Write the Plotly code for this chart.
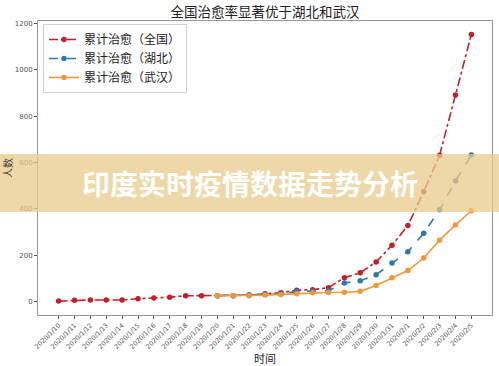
import plotly.graph_objects as go

dates = ["2020/1/10", "2020/1/11", "2020/1/12", "2020/1/13", "2020/1/14", "2020/1/15",
         "2020/1/16", "2020/1/17", "2020/1/18", "2020/1/19", "2020/1/20", "2020/1/21",
         "2020/1/22", "2020/1/23", "2020/1/24", "2020/1/25", "2020/1/26", "2020/1/27",
         "2020/1/28", "2020/1/29", "2020/1/30", "2020/1/31", "2020/2/1", "2020/2/2",
         "2020/2/3", "2020/2/4", "2020/2/5"]

national = [2, 6, 7, 7, 7, 12, 15, 19, 25, 25, 25, 25, 28, 34, 38, 49, 51, 60,
            103, 124, 171, 243, 328, 475, 632, 892, 1153]
hubei_dates = dates[10:]
hubei = [25, 25, 28, 31, 32, 44, 44, 47, 80, 90, 116, 166, 215, 295, 396, 520, 633]
wuhan = [25, 25, 25, 28, 31, 34, 38, 39, 40, 44, 69, 103, 134, 188, 265, 331, 392]

yticks = [0, 200, 400, 600, 800, 1000, 1200]

CJK = "Noto Sans CJK SC, DejaVu Sans, sans-serif"

fig = go.Figure()
fig.add_trace(go.Scatter(x=dates, y=national, name="累计治愈（全国）", mode="lines+markers",
                         line=dict(color="#c41f28", width=1.6, dash="dashdot"),
                         marker=dict(size=5.5, color="#c41f28")))
fig.add_trace(go.Scatter(x=hubei_dates, y=hubei, name="累计治愈（湖北）", mode="lines+markers",
                         line=dict(color="#2f78ad", width=1.6, dash="dash"),
                         marker=dict(size=5.5, color="#2f78ad")))
fig.add_trace(go.Scatter(x=hubei_dates, y=wuhan, name="累计治愈（武汉）", mode="lines+markers",
                         line=dict(color="#f0993a", width=1.6),
                         marker=dict(size=5.5, color="#f0993a")))

fig.update_layout(
    width=499, height=366,
    margin=dict(l=38, r=7, t=21, b=51),
    paper_bgcolor="white", plot_bgcolor="white",
    font=dict(family=CJK, color="#333"),
    title=dict(text="全国治愈率显著优于湖北和武汉", x=0.531, xanchor="center", y=0.967, yanchor="middle",
               font=dict(size=13.5, color="#222", family=CJK)),
    showlegend=True,
    legend=dict(x=0.011, y=0.99, xanchor="left", yanchor="top",
                bgcolor="rgba(255,255,255,0.9)", bordercolor="#d0d0d0", borderwidth=1,
                font=dict(size=12, family=CJK, color="#222"), tracegroupgap=0),
    xaxis=dict(type="category", categoryorder="array", categoryarray=dates,
               range=[-1.3, 27.3], showgrid=False, zeroline=False, automargin=False,
               showline=True, linecolor="#999", linewidth=1, mirror=True,
               ticks="outside", ticklen=3, tickcolor="#555", tickangle=-45,
               tickfont=dict(size=6.5, color="#555", family="DejaVu Sans"),
               title=dict(text="时间", font=dict(size=11, color="#222", family=CJK), standoff=0)),
    yaxis=dict(range=[-58, 1211], tickvals=yticks, showgrid=False, zeroline=False, automargin=False,
               showline=True, linecolor="#999", linewidth=1, mirror=True,
               ticks="outside", ticklen=3, tickcolor="#555",
               tickfont=dict(size=7, color="#555", family="DejaVu Sans"),
               title=dict(text="人数", font=dict(size=10, color="#444", family=CJK), standoff=6)),
)

# banner overlay
fig.add_shape(type="rect", xref="paper", yref="paper",
              x0=-0.2, x1=1.2, y0=(315 - 212) / 294, y1=(315 - 154) / 294,
              fillcolor="rgba(232,203,138,0.75)", line=dict(width=0), layer="above")
fig.add_annotation(text="<b>印度实时疫情数据走势分析</b>", xref="paper", yref="paper",
                   x=(249.5 - 38) / 454, y=(315 - 183) / 294, xanchor="center", yanchor="middle",
                   showarrow=False,
                   font=dict(size=28, color="white", family="Noto Sans CJK SC"))

fig.write_html("out.html", config={"displayModeBar": False},
               post_script="document.body.style.margin='0px';document.body.style.overflow='hidden';")
